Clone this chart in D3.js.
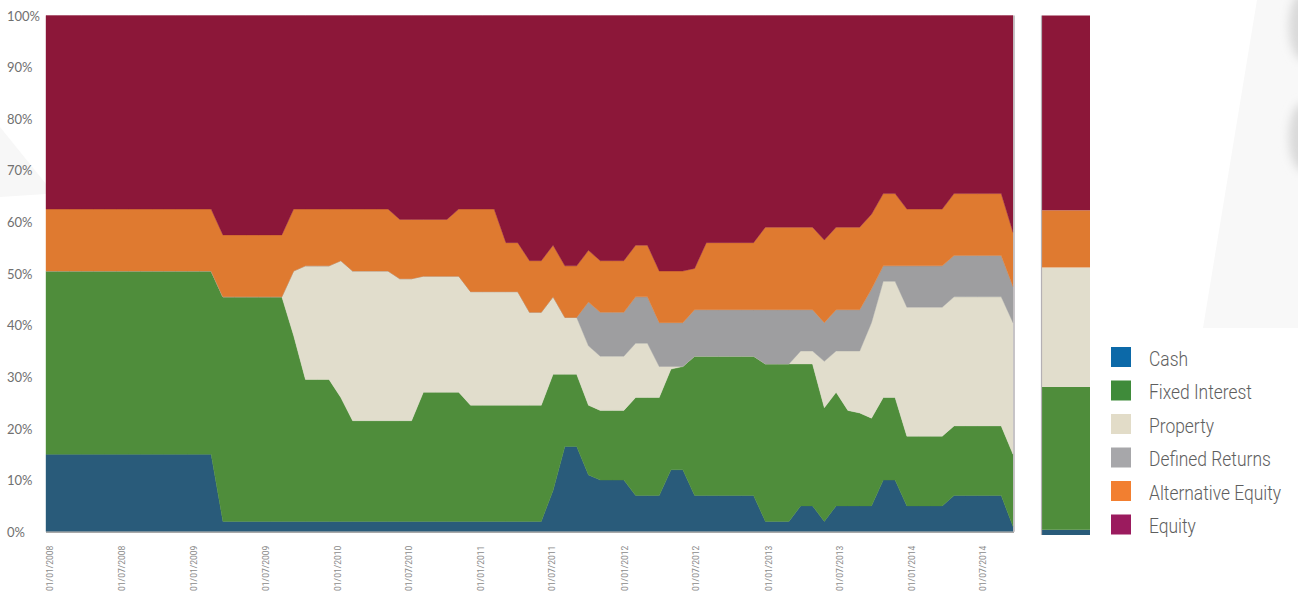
<!DOCTYPE html>
<html>
<head>
<meta charset="utf-8">
<script src="https://cdn.jsdelivr.net/npm/d3@7"></script>
<style>
  html, body { margin: 0; padding: 0; background: #ffffff; }
  svg { display: block; }
</style>
</head>
<body>
<svg id="chart" width="1298" height="595"></svg>
<script>
// Asset allocation history, one observation every 30 days from 01/01/2008
const seriesKeys = ["Cash", "Fixed Interest", "Property", "Defined Returns", "Alternative Equity", "Equity"];

const cash = [
  15, 15, 15, 15, 15, 15, 15, 15, 15, 15, 15, 15, 15, 15, 15,
  2, 2, 2, 2, 2, 2, 2, 2, 2, 2, 2, 2, 2, 2, 2, 2, 2, 2, 2, 2, 2, 2, 2, 2, 2, 2, 2, 2,
  8, 16.5, 16.5, 11, 10, 10, 10, 7, 7, 7, 12, 12,
  7, 7, 7, 7, 7, 7, 2, 2, 2, 5, 5, 2, 5, 5, 5, 5, 10, 10,
  5, 5, 5, 5, 7, 7, 7, 7, 7, 1
];
const fixedInterest = [
  35.5, 35.5, 35.5, 35.5, 35.5, 35.5, 35.5, 35.5, 35.5, 35.5, 35.5, 35.5, 35.5, 35.5, 35.5,
  43.5, 43.5, 43.5, 43.5, 43.5, 43.5, 36, 27.5, 27.5, 27.5, 24,
  19.5, 19.5, 19.5, 19.5, 19.5, 19.5, 25, 25, 25, 25,
  22.5, 22.5, 22.5, 22.5, 22.5, 22.5, 22.5, 22.5, 14, 14,
  13.5, 13.5, 13.5, 13.5, 19, 19, 19, 19.5, 20,
  27, 27, 27, 27, 27, 27, 30.5, 30.5, 30.5, 27.5, 27.5, 22, 22, 18.5, 18, 17, 16, 16,
  13.5, 13.5, 13.5, 13.5, 13.5, 13.5, 13.5, 13.5, 13.5, 14
];
const property = [
  0, 0, 0, 0, 0, 0, 0, 0, 0, 0, 0, 0, 0, 0, 0, 0, 0, 0, 0, 0, 0,
  12.5, 22, 22, 22, 26.5, 29, 29, 29, 29, 27.5, 27.5, 22.5, 22.5, 22.5, 22.5,
  22, 22, 22, 22, 22, 18, 18, 15, 11, 11, 11.5, 10.5, 10.5, 10.5, 10.5, 10.5, 6, 0.5,
  0, 0, 0, 0, 0, 0, 0, 0, 0, 0, 2.5, 2.5, 9, 8, 11.5, 12, 18.5, 22.5, 22.5,
  25, 25, 25, 25, 25, 25, 25, 25, 25, 25.5
];
const definedReturns = [
  0, 0, 0, 0, 0, 0, 0, 0, 0, 0, 0, 0, 0, 0, 0, 0, 0, 0, 0, 0, 0, 0, 0,
  0, 0, 0, 0, 0, 0, 0, 0, 0, 0, 0, 0, 0, 0, 0, 0, 0, 0, 0, 0, 0, 0, 0,
  8.5, 8.5, 8.5, 8.5, 9, 9, 8.5, 8.5, 8.5, 9, 9, 9, 9, 9, 9,
  10.5, 10.5, 10.5, 8, 8, 7.5, 8, 8, 8, 6.5, 3, 3,
  8, 8, 8, 8, 8, 8, 8, 8, 8, 7
];
const alternativeEquity = [
  12, 12, 12, 12, 12, 12, 12, 12, 12, 12, 12, 12, 12, 12, 12, 12, 12, 12, 12, 12, 12, 12,
  11, 11, 11, 10, 12, 12, 12, 12, 11.5, 11.5, 11, 11, 11, 13, 16, 16, 16, 9.5, 9.5,
  10, 10, 10, 10, 10, 10, 10, 10, 10, 10, 10, 10, 10, 10,
  8, 13, 13, 13, 13, 13, 16, 16, 16, 16, 16, 16, 16, 16, 16, 14.5, 14, 14,
  11, 11, 11, 11, 12, 12, 12, 12, 12, 10.5
];
const equity = [
  37.5, 37.5, 37.5, 37.5, 37.5, 37.5, 37.5, 37.5, 37.5, 37.5, 37.5, 37.5, 37.5, 37.5, 37.5,
  42.5, 42.5, 42.5, 42.5, 42.5, 42.5,
  37.5, 37.5, 37.5, 37.5, 37.5, 37.5, 37.5, 37.5, 37.5, 39.5, 39.5, 39.5, 39.5, 39.5,
  37.5, 37.5, 37.5, 37.5, 44, 44, 47.5, 47.5, 44.5, 48.5, 48.5, 45.5, 47.5, 47.5, 47.5,
  44.5, 44.5, 49.5, 49.5, 49.5, 49, 44, 44, 44, 44, 44,
  41, 41, 41, 41, 41, 43.5, 41, 41, 41, 38.5, 34.5, 34.5,
  37.5, 37.5, 37.5, 37.5, 34.5, 34.5, 34.5, 34.5, 34.5, 42
];

// Strategic (target) allocation shown in the single column
const targetAllocation = [1, 27.5, 23, 0, 11, 37.5];

const xTickLabels = [
  "01/01/2008", "01/07/2008", "01/01/2009", "01/07/2009", "01/01/2010", "01/07/2010", "01/01/2011",
  "01/07/2011", "01/01/2012", "01/07/2012", "01/01/2013", "01/07/2013", "01/01/2014", "01/07/2014"
];
const yTickLabels = ["0%", "10%", "20%", "30%", "40%", "50%", "60%", "70%", "80%", "90%", "100%"];

const firstObservation = new Date(2008, 0, 1);
const observationStepDays = 30;

// ---- styling ----
const areaColours = ["#295b7a", "#4f8d3b", "#e1ddcc", "#9e9ea0", "#df7a30", "#8c1739"];
const legendColours = ["#0c69a8", "#3f8b3a", "#e2dcc8", "#a7a7aa", "#f27f30", "#9b1b5e"];

const svg = d3.select("#chart");

// soft background shapes
const defs = svg.append("defs");
defs.append("filter").attr("id", "soft").attr("x", "-50%").attr("y", "-50%").attr("width", "200%").attr("height", "200%")
  .append("feGaussianBlur").attr("stdDeviation", 5);
svg.append("polygon").attr("points", "1257,0 1298,0 1298,328 1203,328").attr("fill", "#f8f8f8");
svg.append("polygon").attr("points", "0,127 46,184 46,194 0,197").attr("fill", "#f7f7f7");
svg.append("ellipse").attr("cx", 1303).attr("cy", 26).attr("rx", 14).attr("ry", 34)
  .attr("fill", "#d9d9d9").attr("filter", "url(#soft)");
svg.append("ellipse").attr("cx", 1303).attr("cy", 137).attr("rx", 14).attr("ry", 34)
  .attr("fill", "#d9d9d9").attr("filter", "url(#soft)");

// ---- data rows ----
const columns = [cash, fixedInterest, property, definedReturns, alternativeEquity, equity];
const rows = cash.map((_, i) => {
  const row = { date: d3.timeDay.offset(firstObservation, i * observationStepDays) };
  seriesKeys.forEach((k, j) => { row[k] = columns[j][i]; });
  return row;
});

const x = d3.scaleTime()
  .domain([rows[0].date, rows[rows.length - 1].date])
  .range([46, 1013]);
const y = d3.scaleLinear().domain([0, 100]).range([531.7, 15.5]);

const stack = d3.stack().keys(seriesKeys);
const layers = stack(rows);

const area = d3.area()
  .x(d => x(d.data.date))
  .y0(d => y(d[0]))
  .y1(d => y(d[1]));

svg.append("g").selectAll("path")
  .data(layers)
  .join("path")
  .attr("d", area)
  .attr("fill", (d, i) => areaColours[i])
  .attr("stroke", (d, i) => areaColours[i])
  .attr("stroke-width", 0.4);

// plot frame line on the right
svg.append("line").attr("x1", 1014).attr("x2", 1014).attr("y1", y(100)).attr("y2", y(0))
  .attr("stroke", "#b4b0b4").attr("stroke-width", 1.5);

// ---- x axis ----
const parseLabel = d3.timeParse("%d/%m/%Y");
const xAxis = d3.axisBottom(x)
  .tickValues(xTickLabels.map(parseLabel))
  .tickFormat(d3.timeFormat("%d/%m/%Y"))
  .tickSize(0)
  .tickSizeOuter(0);
const gx = svg.append("g").attr("transform", `translate(0,${y(0)})`).call(xAxis);
gx.select(".domain").attr("stroke", "#a8a8a8").attr("stroke-width", 1.5).attr("d", `M46,0.5H1014`);
gx.selectAll("text")
  .attr("transform", "rotate(-90)")
  .attr("x", -14)
  .attr("y", 4)
  .attr("dy", "0.35em")
  .style("text-anchor", "end")
  .style("font-family", "Roboto, 'DejaVu Sans', sans-serif")
  .style("font-size", "8.5px")
  .style("fill", "#8a8a8a");

// ---- y axis ----
const yAxis = d3.axisLeft(y)
  .tickValues(yTickLabels.map(s => parseFloat(s)))
  .tickFormat((d, i) => yTickLabels[i])
  .tickSize(0);
const gy = svg.append("g").attr("transform", "translate(46,0)").call(yAxis);
gy.select(".domain").remove();
gy.selectAll("text")
  .attr("x", -39)
  .attr("dy", "0.35em")
  .style("text-anchor", "start")
  .style("font-family", "Lato, 'Open Sans', sans-serif")
  .style("font-size", "13px")
  .style("fill", "#707070");

// ---- target allocation column ----
const xBar = d3.scaleBand().domain(["Target"]).range([1042, 1090]).padding(0);
const yBar = d3.scaleLinear().domain([0, 100]).range([535, 15.5]);
const targetRow = { label: "Target" };
seriesKeys.forEach((k, j) => { targetRow[k] = targetAllocation[j]; });
const barLayers = stack([targetRow]);
svg.append("g").selectAll("rect")
  .data(barLayers)
  .join("rect")
  .attr("x", xBar("Target"))
  .attr("width", xBar.bandwidth())
  .attr("y", d => yBar(d[0][1]))
  .attr("height", d => yBar(d[0][0]) - yBar(d[0][1]))
  .attr("fill", (d, i) => areaColours[i]);
svg.append("line").attr("x1", 1041.5).attr("x2", 1041.5).attr("y1", yBar(100)).attr("y2", yBar(0))
  .attr("stroke", "#b4b0b4").attr("stroke-width", 1.2);

// ---- legend ----
const legend = svg.append("g").attr("transform", "translate(1111,347)");
const items = legend.selectAll("g")
  .data(seriesKeys)
  .join("g")
  .attr("transform", (d, i) => `translate(0,${i * 33.5})`);
items.append("rect")
  .attr("width", 20).attr("height", 20)
  .attr("fill", (d, i) => legendColours[i]);
items.append("text")
  .attr("transform", "translate(38,11.5) scale(0.83,1)")
  .attr("dy", "0.35em")
  .style("font-family", "Roboto, 'Open Sans', sans-serif")
  .style("font-weight", 300)
  .style("font-size", "21px")
  .style("fill", "#5e5e5e")
  .text(d => d);
</script>
</body>
</html>
